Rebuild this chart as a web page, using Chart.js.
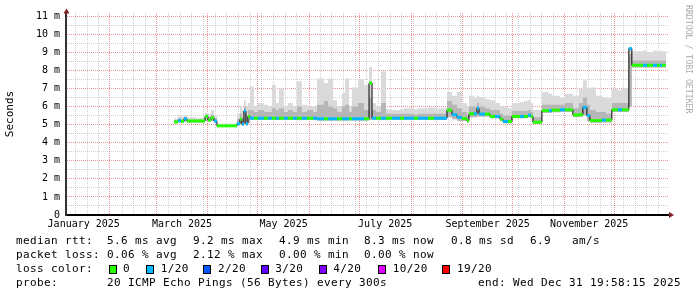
<!DOCTYPE html>
<html>
<head>
<meta charset="utf-8">
<style>
  body { margin: 0; background: #fff; }
  #wrap { position: relative; width: 697px; height: 297px; font-family: 'DejaVu Sans Mono', monospace; }
  #legend span { position: absolute; white-space: pre; font-size: 11px; letter-spacing: 0.38px; line-height: 14px; color: #000; }
  #legend i { position: absolute; box-sizing: border-box; width: 8px; height: 9px; border: 1px solid #000; }
</style>
</head>
<body>
<div id="wrap">
  <canvas id="myChart" width="697" height="297"></canvas>
  <div id="legend"></div>
</div>
<script src="https://cdn.jsdelivr.net/npm/chart.js@4"></script>
<script>
// time axis in days since 1 Jan 2025
const xMin = 4.86, xMax = 366.9
const monthStarts = [31, 59, 90, 120, 151, 181, 212, 243, 273, 304, 334]
const xLabels = ['January 2025', 'March 2025', 'May 2025', 'July 2025', 'September 2025', 'November 2025']
const xLabelDays = [15.5, 74.5, 135.5, 196.5, 258, 319]

// start of each step (last value = end of data)
const days = [69.7,72.1,73.9,75.7,77.5,82.9,88.3,90.1,91.9,93.7,
  95.5,107.5,109.3,110.5,111.7,112.9,114.1,115.3,117.7,120.1,
  123.7,126.1,128.5,130.9,132.7,135.7,138.1,141.1,143.5,146.5,
  149.5,153.2,155.6,159.8,162.2,165.2,167.6,170.6,172.4,174.8,
  176.6,180.2,183.8,186.8,188.6,191.0,194.0,197.0,200.6,205.4,
  207.8,213.8,216.2,222.2,225.8,233.6,236.6,239.6,242.6,245.6,
  246.8,249.8,251.6,252.8,256.4,259.4,262.4,265.4,267.2,270.2,
  272.6,277.4,279.8,282.2,284.0,285.2,290.6,294.8,296.6,301.4,
  304.4,309.2,312.8,315.2,317.6,319.4,323.0,326.6,329.0,332.6,
  336.2,338.6,342.8,344.6,351.3,353.7,357.3,359.7,361.5,362.7,
  365.1]

// median rtt (ms)
const median = [5.15,5.22,5.18,5.32,5.2,5.2,5.45,5.25,5.38,5.2,
  4.93,5.05,5.3,5.02,5.75,5.05,5.45,5.35,5.35,5.35,
  5.35,5.35,5.35,5.35,5.35,5.35,5.35,5.35,5.35,5.35,
  5.35,5.35,5.32,5.32,5.32,5.32,5.32,5.32,5.32,5.32,
  5.32,5.32,5.32,7.3,5.35,5.35,5.35,5.35,5.35,5.35,
  5.35,5.35,5.35,5.35,5.35,5.8,5.55,5.4,5.33,5.22,
  5.6,5.6,5.9,5.58,5.58,5.45,5.45,5.3,5.17,5.17,
  5.45,5.45,5.45,5.52,5.45,5.13,5.77,5.77,5.8,5.82,
  5.82,5.53,5.55,5.95,5.5,5.22,5.22,5.25,5.25,5.82,
  5.82,5.82,9.2,8.28,8.28,8.28,8.28,8.28,8.28,8.28]

// loss class per step (index into lossLabels)
const loss = [0,1,0,1,0,0,0,0,0,1,
  0,1,0,1,1,1,0,1,0,1,
  0,1,0,1,0,1,0,1,0,1,
  0,1,1,0,1,1,0,1,1,0,
  1,1,0,0,1,0,1,0,1,0,
  1,0,1,0,1,0,1,1,0,0,
  0,1,1,1,0,0,1,0,1,0,
  0,1,0,1,0,0,0,1,0,1,
  0,0,0,1,1,0,0,1,0,0,
  1,0,1,0,1,0,1,0,1,0]

// smoke: lowest ping, upper dense part, highest ping (ms)
const smokeLo = [5.08,5.12,5.1,5.15,5.12,5.12,5.2,5.15,5.2,5.1,
  4.88,4.95,5.0,4.95,5.1,4.95,5.1,5.25,5.25,5.25,
  5.25,5.25,5.25,5.25,5.25,5.25,5.25,5.25,5.25,5.25,
  5.25,5.25,5.22,5.22,5.22,5.22,5.22,5.22,5.22,5.22,
  5.22,5.22,5.22,5.25,5.25,5.25,5.25,5.25,5.25,5.25,
  5.25,5.25,5.25,5.25,5.25,5.4,5.3,5.2,5.2,5.1,
  5.4,5.4,5.45,5.45,5.45,5.35,5.35,5.2,5.07,5.07,
  5.35,5.35,5.35,5.4,5.35,5.05,5.65,5.65,5.68,5.7,
  5.7,5.42,5.42,5.5,5.2,5.1,5.1,5.12,5.12,5.7,
  5.7,5.7,6.0,8.15,8.15,8.15,8.15,8.15,8.15,8.15]
const smokeMid = [5.25,5.35,5.3,5.4,5.28,5.28,5.55,5.4,5.55,5.35,
  4.98,5.3,5.6,5.4,6.0,5.5,5.8,5.8,5.7,5.8,
  5.7,5.7,5.9,5.8,5.9,5.7,5.8,5.7,6.0,5.7,
  5.8,5.7,6.1,6.3,6.0,5.9,5.7,6.0,6.1,5.7,
  6.0,6.2,5.8,6.5,5.8,5.7,6.2,5.6,5.6,5.6,
  5.6,5.55,5.6,5.6,5.6,6.3,6.1,5.9,5.7,5.5,
  6.0,6.0,6.2,6.0,5.9,5.8,5.8,5.6,5.5,5.5,
  5.75,5.75,5.75,5.8,5.7,5.4,6.1,6.1,6.1,6.1,
  6.2,5.9,6.2,6.5,6.1,5.8,5.7,5.7,5.6,6.2,
  6.2,6.2,8.9,8.55,8.55,8.55,8.55,8.55,8.55,8.55]
const smokeHi = [5.35,5.5,5.45,5.5,5.4,5.35,5.65,5.6,5.8,5.5,
  5.05,5.6,6.0,5.8,6.35,6.0,6.2,7.1,6.0,6.2,
  6.1,6.0,7.2,6.2,7.0,6.0,6.2,6.0,7.4,6.1,
  6.0,6.0,7.55,7.3,7.55,6.35,6.0,6.75,7.55,6.0,
  7.05,7.5,7.2,8.2,6.2,6.0,7.95,5.85,5.8,5.85,
  5.9,5.85,5.9,5.95,5.9,6.8,6.6,6.8,6.2,6.0,
  6.6,6.5,6.6,6.5,6.4,6.35,6.2,6.0,6.0,5.9,
  6.2,6.25,6.3,6.35,6.2,5.8,6.8,6.7,6.6,6.5,
  6.7,6.6,7.0,7.45,7.0,7.05,6.6,6.5,6.45,7.0,
  6.9,7.0,9.3,9.05,9.1,9.0,9.1,9.05,9.1,9.05]

const lossLabels = ['0', '1/20', '2/20', '3/20', '4/20', '10/20', '19/20']
const lossColors = ['#26ff00', '#00b8ff', '#0059ff', '#5e00ff', '#7e00ff', '#dd00ff', '#ff0000']

const majorGrid = 'rgba(222,79,79,0.6)'
const minorGrid = 'rgba(150,150,150,0.45)'

// step series: each value holds from its day to the next one
function steps(vals) {
  return days.map((d, i) => ({ x: d, y: vals[Math.min(i, vals.length - 1)] }))
}
// coloured median band, one horizontal piece per step
const bandPoints = []
median.forEach((m, i) => {
  bandPoints.push({ x: days[i], y: m }, { x: days[i + 1], y: m })
})

// x ticks: weekly minor lines, monthly major lines, mid-month labels
const kind = new Map()
for (let d = 3.5; d < xMax; d += 7) {
  if (d > xMin && !monthStarts.some((m) => Math.abs(m - d) < 1)) kind.set(d, 'minor')
}
monthStarts.forEach((d) => kind.set(d, 'major'))
xLabelDays.forEach((d, i) => kind.set(d, xLabels[i]))
const xTicks = [...kind.keys()].sort((a, b) => a - b)
const yTicks = []
for (let v = 0; v <= 11; v += 0.5) yTicks.push(v)

function xGridColor(v) {
  const k = kind.get(v)
  return k === 'major' ? majorGrid : k === 'minor' ? minorGrid : 'rgba(0,0,0,0)'
}
function yGridColor(v) {
  return v === 0 ? 'rgba(0,0,0,0)' : Number.isInteger(v) ? majorGrid : minorGrid
}

Chart.defaults.font.family = "'DejaVu Sans Mono', monospace"
Chart.defaults.color = '#000'

const decor = {
  id: 'decor',
  afterDraw(chart) {
    const { ctx, chartArea: a } = chart
    ctx.save()
    ctx.fillStyle = '#802020'
    ctx.beginPath()
    ctx.moveTo(a.left + 0.5, a.top - 4.5)
    ctx.lineTo(a.left - 2.5, a.top + 0.5)
    ctx.lineTo(a.left + 3.5, a.top + 0.5)
    ctx.fill()
    ctx.beginPath()
    ctx.moveTo(a.right + 5, a.bottom)
    ctx.lineTo(a.right, a.bottom - 3)
    ctx.lineTo(a.right, a.bottom + 3)
    ctx.fill()
    ctx.translate(688.5, 5)
    ctx.rotate(Math.PI / 2)
    ctx.font = "8.2px 'DejaVu Sans Mono'"
    ctx.fillStyle = '#aaaaaa'
    ctx.textBaseline = 'middle'
    ctx.fillText('RRDTOOL / TOBI OETIKER', 0, 0)
    ctx.restore()
  },
}

let chart = new Chart(document.getElementById('myChart'), {
  type: 'line',
  data: {
    datasets: [
      {
        data: bandPoints,
        borderWidth: 3,
        borderCapStyle: 'butt',
        segment: {
          borderColor: (c) => (c.p0DataIndex % 2 === 0 ? lossColors[loss[c.p0DataIndex >> 1]] : 'rgba(0,0,0,0)'),
        },
      },
      { data: steps(median), stepped: 'before', borderColor: '#000', borderWidth: 1 },
      { data: steps(smokeMid), stepped: 'before', borderWidth: 0, fill: 4, backgroundColor: '#b6b6b6' },
      { data: steps(smokeHi), stepped: 'before', borderWidth: 0, fill: 4, backgroundColor: '#dadada' },
      { data: steps(smokeLo), stepped: 'before', borderWidth: 0 },
    ],
  },
  options: {
    responsive: false,
    animation: false,
    layout: { padding: { left: 0, right: 28, top: 13, bottom: 60 } },
    elements: { point: { radius: 0 }, line: { tension: 0 } },
    plugins: { legend: { display: false }, tooltip: { enabled: false } },
    scales: {
      x: {
        type: 'linear',
        min: xMin,
        max: xMax,
        afterBuildTicks: (s) => { s.ticks = xTicks.map((v) => ({ value: v })) },
        afterFit: (s) => { s.height = 22 },
        grid: {
          drawTicks: false,
          color: xTicks.map(xGridColor),
        },
        border: { color: '#000', width: 2, dash: [1, 1] },
        ticks: {
          autoSkip: false,
          maxRotation: 0,
          padding: 3,
          font: { size: 10 },
          callback: (v) => {
            const k = kind.get(v)
            return k === 'major' || k === 'minor' ? '' : k
          },
        },
      },
      y: {
        min: 0,
        max: 11.17,
        afterBuildTicks: (s) => { s.ticks = yTicks.map((v) => ({ value: v })) },
        afterFit: (s) => { s.width = 66 },
        grid: {
          drawTicks: false,
          color: yTicks.map(yGridColor),
        },
        border: { color: '#333', width: 2, dash: [1, 1] },
        ticks: {
          autoSkip: false,
          padding: 6,
          font: { size: 10 },
          callback: (v) => (v === 0 ? '0' : Number.isInteger(v) ? v + ' m' : ''),
        },
        title: { display: true, text: 'Seconds', font: { size: 11 }, padding: { top: 4, bottom: 0 } },
      },
    },
  },
  plugins: [decor],
})

// legend below the graph
const legendRows = [
  [244.3, [[16, 'median rtt:'], [107, '5.6 ms avg'], [193, '9.2 ms max'], [279, '4.9 ms min'], [364, '8.3 ms now'], [451, '0.8 ms sd'], [530, '6.9'], [572, 'am/s']]],
  [258.3, [[16, 'packet loss:'], [107, '0.06 % avg'], [193, '2.12 % max'], [279, '0.00 % min'], [364, '0.00 % now']]],
  [272.3, [[16, 'loss color:']]],
  [286.6, [[16, 'probe:'], [107, '20 ICMP Echo Pings (56 Bytes) every 300s'], [478, 'end: Wed Dec 31 19:58:15 2025']]],
]
const lossBoxX = [108.5, 145.5, 203, 260.5, 319, 377.5, 442]
const lossTextX = [123, 160.7, 218, 275.3, 333.3, 392.7, 457]
const legend = document.getElementById('legend')
function addText(x, base, t) {
  const s = document.createElement('span')
  s.textContent = t
  s.style.left = x + 'px'
  s.style.top = base - 10.8 + 'px'
  legend.appendChild(s)
}
legendRows.forEach(([base, items]) => items.forEach(([x, t]) => addText(x, base, t)))
lossLabels.forEach((t, i) => {
  const b = document.createElement('i')
  b.style.left = lossBoxX[i] + 'px'
  b.style.top = '264.5px'
  b.style.background = lossColors[i]
  legend.appendChild(b)
  addText(lossTextX[i], 272.3, t)
})
</script>
</body>
</html>
